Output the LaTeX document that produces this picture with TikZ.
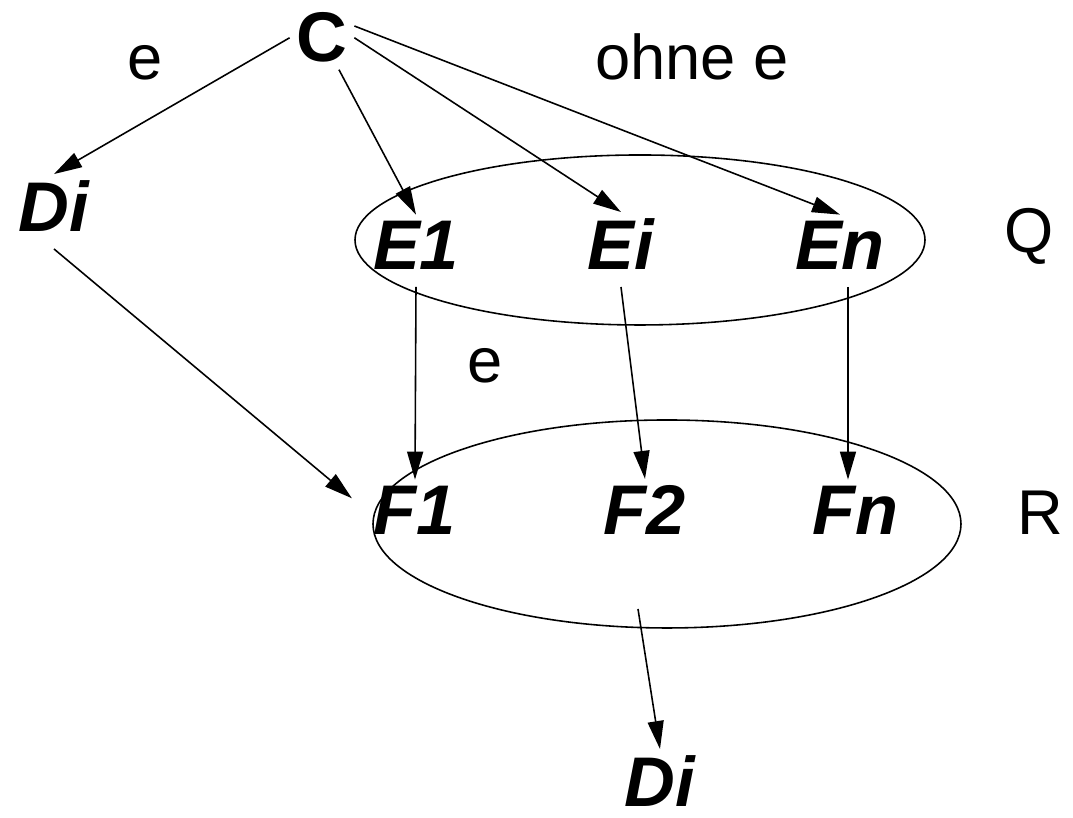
\documentclass[tikz,border=0pt]{standalone}
\usepackage{fontspec}
\setmainfont{Liberation Sans}
\usetikzlibrary{arrows.meta}

\begin{document}
\begin{tikzpicture}[>={Triangle[length=2.8mm,width=1.6mm]},line width=0.45pt,
  lbl/.style={font=\fontsize{18}{22}\selectfont,inner sep=0pt,anchor=base},
  top/.style={font=\fontsize{20}{24}\selectfont\bfseries,inner sep=0pt,outer sep=0.07cm,anchor=base},
  elem/.style={font=\fontsize{20}{24}\selectfont\bfseries\itshape,inner sep=0pt,outer sep=0.07cm,text depth=0.1cm,anchor=base}]
\useasboundingbox (0,0) rectangle (10.73,8.18);
% the two sets
\draw (6.40,5.78) ellipse [x radius=2.85, y radius=0.85];
\draw (6.67,2.94) ellipse [x radius=2.94, y radius=1.04];
\node[top] (C) at (3.22,7.56) {C};
\node[lbl] (eTop) at (1.45,7.38) {e};
\node[lbl] (ohne) at (6.92,7.38) {ohne e};
\node[elem] (Di1) at (0.54,5.86) {Di};
\node[elem] (E1) at (4.16,5.48) {E1};
\node[elem] (Ei) at (6.21,5.48) {Ei};
\node[elem] (En) at (8.40,5.48) {En};
\node[lbl] (Q) at (10.29,5.65) {Q};
\node[lbl] (eMid) at (4.85,4.35) {e};
\node[elem] (F1) at (4.15,2.83) {F1};
\node[elem] (F2) at (6.45,2.83) {F2};
\node[elem] (Fn) at (8.55,2.83) {Fn};
\node[lbl] (R) at (10.40,2.83) {R};
\node[elem,text depth=0pt] (Di2) at (6.60,0.11) {Di};
\coordinate (out) at (6.38,2.09);
% arrows
\draw[->] (C.west) -- (Di1.north);
\draw[->] (C) -- (E1.north);
\draw[->] (C.east) -- (Ei.north);
\draw[->] (C.20) -- (En.north);
\draw[->] (Di1.south) -- ([xshift=-0.15cm]F1.160);
\draw[->] (E1.south) -- (F1.north);
\draw[->] (Ei.south) -- (F2.north);
\draw[->] ([xshift=0.08cm]En.south) -- ([xshift=0.08cm]En.south |- Fn.north);
\draw[->] (out) -- (Di2.north);
\end{tikzpicture}
\end{document}
